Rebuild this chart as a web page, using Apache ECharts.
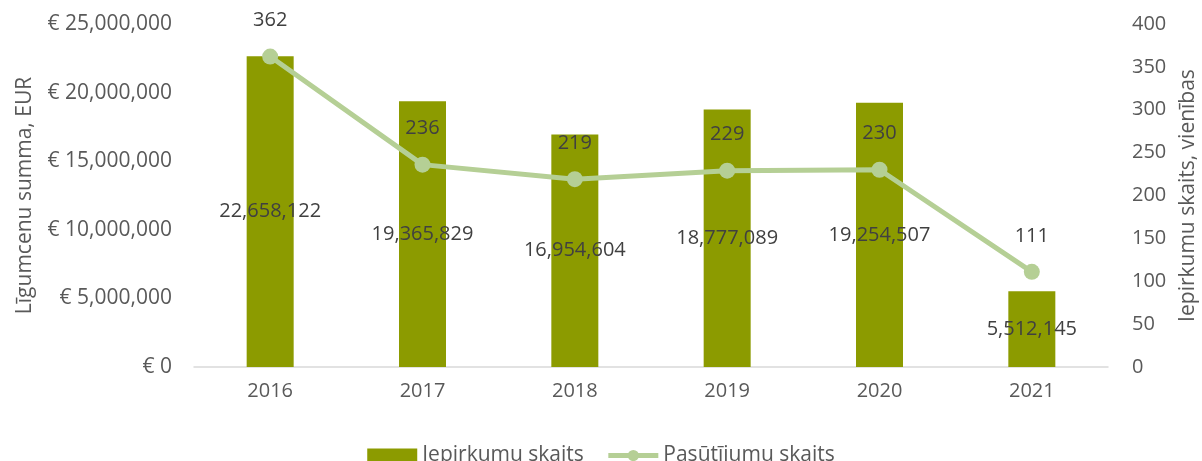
<!DOCTYPE html>
<html>
<head>
<meta charset="utf-8">
<script src="https://cdn.jsdelivr.net/npm/echarts@6/dist/echarts.min.js"></script>
<style>
  html, body { margin: 0; padding: 0; background: #fff; }
  #chart { width: 1202px; height: 461px; }
</style>
</head>
<body>
<div id="chart"></div>
<script>
// dati
const years = ["2016", "2017", "2018", "2019", "2020", "2021"];
const ligumcenuSumma = [22658122, 19365829, 16954604, 18777089, 19254507, 5512145];
const pasutijumuSkaits = [362, 236, 219, 229, 230, 111];

const fmt = (v) => v.toLocaleString("en-US");
const textColor = "#595959";
const font = "Open Sans";
const fs = 20;

const chart = echarts.init(document.getElementById("chart"));
chart.setOption({
  animation: false,
  textStyle: { fontFamily: font },
  grid: { left: 194, right: 94, top: 24, bottom: 94, outerBoundsMode: "none", containLabel: false },
  legend: {
    bottom: -10,
    left: "center",
    itemGap: 22,
    itemWidth: 50,
    itemHeight: 14,
    textStyle: { fontSize: 21, color: textColor, fontFamily: font },
    data: [
      { name: "Iepirkumu skaits", icon: "rect" },
      { name: "Pasūtījumu skaits", lineStyle: { width: 5 } },
    ],
  },
  xAxis: {
    type: "category",
    data: years,
    axisLine: { lineStyle: { color: "#d9d9d9", width: 1.5 } },
    axisTick: { show: false },
    axisLabel: { fontSize: fs, color: textColor, margin: 14 },
  },
  yAxis: [
    {
      type: "value",
      min: 0,
      max: 25000000,
      interval: 5000000,
      name: "Līgumcenu summa, EUR",
      nameLocation: "middle",
      nameGap: 158,
      nameRotate: 90,
      nameTextStyle: { fontSize: 21, color: textColor },
      splitLine: { show: false },
      axisLine: { show: false },
      axisTick: { show: false },
      axisLabel: {
        fontSize: 21,
        color: textColor,
        margin: 22,
        formatter: (v) => "€ " + fmt(v),
      },
    },
    {
      type: "value",
      min: 0,
      max: 400,
      interval: 50,
      name: "Iepirkumu skaits, vienības",
      nameLocation: "middle",
      nameGap: 65,
      nameRotate: 90,
      nameTextStyle: { fontSize: 21, color: textColor },
      splitLine: { show: false },
      axisLine: { show: false },
      axisTick: { show: false },
      axisLabel: { fontSize: fs, color: textColor, margin: 24 },
    },
  ],
  series: [
    {
      name: "Iepirkumu skaits",
      type: "bar",
      data: ligumcenuSumma,
      barWidth: 47,
      itemStyle: { color: "#8c9b00" },
      label: {
        show: true,
        position: "inside",
        fontSize: fs,
        color: "#404040",
        formatter: (p) => fmt(p.value),
      },
    },
    {
      name: "Pasūtījumu skaits",
      type: "line",
      yAxisIndex: 1,
      data: pasutijumuSkaits,
      symbol: "circle",
      symbolSize: 16,
      lineStyle: { color: "#b5cf95", width: 5 },
      itemStyle: { color: "#b5cf95" },
      label: {
        show: true,
        position: "top",
        distance: 18,
        fontSize: fs,
        color: "#404040",
      },
    },
  ],
});
</script>
</body>
</html>
